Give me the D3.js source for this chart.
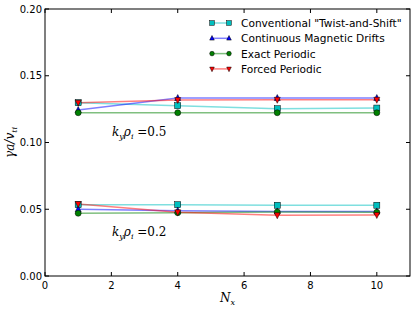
<!DOCTYPE html>
<html><head><meta charset="utf-8">
<script src="https://cdn.jsdelivr.net/npm/d3@7"></script>
<style>body{margin:0;background:#fff}svg{display:block}</style>
</head><body>
<script>
const nx = [1, 4, 7, 10];
const seriesNames = ['Conventional "Twist-and-Shift"', 'Continuous Magnetic Drifts', 'Exact Periodic', 'Forced Periodic'];
const seriesColors = ['#00bfbf', '#0000ff', '#008000', '#ff0000'];
const seriesMarkers = ['square', 'triangleUp', 'circle', 'triangleDown'];
// ky rho = 0.5
const twist05 = [0.1298, 0.1276, 0.1253, 0.1258];
const drift05 = [0.1243, 0.1333, 0.1333, 0.1333];
const exact05 = [0.1223, 0.1223, 0.1223, 0.1223];
const forced05 = [0.1298, 0.1318, 0.1320, 0.1320];
// ky rho = 0.2
const twist02 = [0.0534, 0.0534, 0.0530, 0.0530];
const drift02 = [0.0500, 0.0489, 0.0484, 0.0484];
const exact02 = [0.0470, 0.0474, 0.0480, 0.0477];
const forced02 = [0.0539, 0.0477, 0.0455, 0.0457];
const xTicks = [0, 2, 4, 6, 8, 10];
const yTicks = [0.00, 0.05, 0.10, 0.15, 0.20];

const W = 415, H = 309;
const m = {l: 45, r: 5, t: 9, b: 33};
const svg = d3.select('body').append('svg').attr('width', W).attr('height', H);
const x = d3.scaleLinear().domain([0, 11]).range([m.l, W - m.r]);
const y = d3.scaleLinear().domain([0, 0.2]).range([H - m.b, m.t]);

const groups = [[twist05, drift05, exact05, forced05], [twist02, drift02, exact02, forced02]];
const line = d3.line().x((d, i) => x(nx[i])).y(d => y(d));

function marker(g, type, cx, cy, color, s) {
  let p;
  if (type === 'square') p = g.append('rect').attr('x', cx - s).attr('y', cy - s).attr('width', 2 * s).attr('height', 2 * s);
  else if (type === 'circle') p = g.append('circle').attr('cx', cx).attr('cy', cy).attr('r', s);
  else if (type === 'triangleUp') p = g.append('path').attr('d', `M${cx},${cy - s - 0.5}L${cx + s},${cy + s - 0.5}L${cx - s},${cy + s - 0.5}Z`);
  else p = g.append('path').attr('d', `M${cx},${cy + s + 0.5}L${cx + s},${cy - s + 0.5}L${cx - s},${cy - s + 0.5}Z`);
  p.attr('fill', color).attr('stroke', '#000').attr('stroke-width', 0.5);
}

const plot = svg.append('g');
groups.forEach(grp => {
  grp.forEach((vals, si) => {
    plot.append('path').attr('d', line(vals)).attr('fill', 'none')
      .attr('stroke', seriesColors[si]).attr('stroke-opacity', 0.5).attr('stroke-width', 1.5);
  });
  grp.forEach((vals, si) => {
    vals.forEach((v, i) => marker(plot, seriesMarkers[si], x(nx[i]), y(v), seriesColors[si], 3));
  });
});

// frame
svg.append('rect').attr('x', m.l).attr('y', m.t).attr('width', W - m.r - m.l).attr('height', H - m.b - m.t)
  .attr('fill', 'none').attr('stroke', '#000').attr('stroke-width', 1);

// ticks
const tk = svg.append('g').attr('stroke', '#000').attr('stroke-width', 1);
xTicks.forEach(t => {
  tk.append('line').attr('x1', x(t)).attr('x2', x(t)).attr('y1', H - m.b).attr('y2', H - m.b - 4);
  tk.append('line').attr('x1', x(t)).attr('x2', x(t)).attr('y1', m.t).attr('y2', m.t + 4);
});
yTicks.forEach(t => {
  tk.append('line').attr('x1', m.l).attr('x2', m.l + 4).attr('y1', y(t)).attr('y2', y(t));
  tk.append('line').attr('x1', W - m.r).attr('x2', W - m.r - 4).attr('y1', y(t)).attr('y2', y(t));
});
const font = 'DejaVu Sans';
xTicks.forEach(t => svg.append('text').attr('x', x(t)).attr('y', H - m.b + 13).attr('text-anchor', 'middle')
  .attr('font-family', font).attr('font-size', 10).text(t));
yTicks.forEach(t => svg.append('text').attr('x', m.l - 3).attr('y', y(t) + 3.5).attr('text-anchor', 'end')
  .attr('font-family', font).attr('font-size', 10).text(t.toFixed(2)));

// axis labels
const xl = svg.append('text').attr('x', x(5.5)).attr('y', 302).attr('text-anchor', 'middle')
  .attr('font-family', 'DejaVu Serif').attr('font-style', 'italic').attr('font-size', 12);
xl.append('tspan').text('N');
xl.append('tspan').attr('font-size', 8).attr('dy', 3).text('x');

const yl = svg.append('text').attr('transform', `translate(14,${y(0.1)}) rotate(-90)`).attr('text-anchor', 'middle')
  .attr('font-family', 'DejaVu Serif').attr('font-style', 'italic').attr('font-size', 12);
yl.append('tspan').text('γa/v');
yl.append('tspan').attr('font-size', 8).attr('dy', 3).text('ti');

// annotations
function ann(px, py, val) {
  const t = svg.append('text').attr('x', px).attr('y', py)
    .attr('font-family', 'DejaVu Serif').attr('font-size', 12);
  t.append('tspan').attr('font-style', 'italic').text('k');
  t.append('tspan').attr('font-style', 'italic').attr('font-size', 8).attr('dy', 3).text('y');
  t.append('tspan').attr('font-style', 'italic').attr('dy', -3).text('ρ');
  t.append('tspan').attr('font-style', 'italic').attr('font-size', 8).attr('dy', 3).text('i');
  t.append('tspan').attr('dy', -3).text(' =' + val);
}
ann(112, 136, '0.5');
ann(112, 236, '0.2');

// legend
seriesNames.forEach((n, i) => {
  const ly = 23 + i * 15.3;
  svg.append('line').attr('x1', 212).attr('x2', 229).attr('y1', ly).attr('y2', ly)
    .attr('stroke', seriesColors[i]).attr('stroke-opacity', 0.5).attr('stroke-width', 1.5);
  marker(svg, seriesMarkers[i], 212, ly, seriesColors[i], 2.3);
  marker(svg, seriesMarkers[i], 229, ly, seriesColors[i], 2.3);
  svg.append('text').attr('x', 241).attr('y', ly + 4).attr('font-family', font).attr('font-size', 10.6).text(n);
});
</script>
</body></html>
